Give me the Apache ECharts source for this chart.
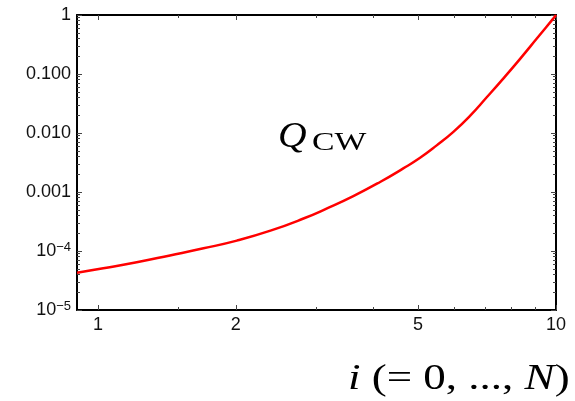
<!DOCTYPE html>
<html>
<head>
<meta charset="utf-8">
<script src="https://cdn.jsdelivr.net/npm/echarts@6/dist/echarts.min.js"></script>
<style>
  html, body { margin: 0; padding: 0; background: #fff; }
  #chart { width: 575px; height: 401px; }
</style>
</head>
<body>
<div id="chart"></div>
<script>
// Q_CW against the index i, both on logarithmic scales
const iValues   = [0.9, 1.027, 1.215, 1.436, 1.70, 2.01, 2.38, 2.81, 3.18, 3.61, 4.13, 4.64, 5.05, 5.49, 5.97, 6.49, 7.06, 7.67, 8.34, 9.08, 9.87, 10];
const qcwValues = [4.29e-5, 5.09e-5, 6.43e-5, 8.41e-5, 1.11e-4, 1.50e-4, 2.21e-4, 3.55e-4, 5.37e-4, 8.51e-4, 1.479e-3, 2.51e-3, 3.80e-3, 6.17e-3, 0.01047, 0.0195, 0.0403, 0.0836, 0.179, 0.399, 0.877, 1.0];

// axis ticks and labels
const xMajorTicks = [1, 2, 5, 10];
const xMinorTicks = [1.5, 3, 4, 6, 7, 8, 9];
const yMajorTicks = [1e-5, 1e-4, 1e-3, 1e-2, 1e-1, 1];
const yTickLabels = ['10{sup|\u22125}', '10{sup|\u22124}', '0.001', '0.010', '0.100', '1'];

// 2..9 within every decade on the y axis
const yMinorTicks = [];
for (let e = -5; e < 0; e++) {
  for (let m = 2; m <= 9; m++) yMinorTicks.push(m * Math.pow(10, e));
}

const chart = echarts.init(document.getElementById('chart'), null, { renderer: 'canvas' });

const gridBox = { left: 77, right: 19, top: 15, bottom: 91 };
const frameLine = { show: true, lineStyle: { color: '#000', width: 2 } };
const tickColor = '#444';
const labelFont = { fontFamily: 'Liberation Sans', fontSize: 18, color: '#111' };

function xAxisDef(grid, position, ticks, len, withLine, withLabels) {
  return {
    gridIndex: grid, type: 'log', logBase: 10, min: 0.9, max: 10, position: position,
    axisLine: withLine ? frameLine : { show: false },
    axisTick: { show: true, inside: true, length: len, customValues: ticks, lineStyle: { color: tickColor, width: 1 } },
    axisLabel: withLabels
      ? Object.assign({ show: true, margin: 6, customValues: xMajorTicks, formatter: v => String(Math.round(v)) }, labelFont)
      : { show: false },
    splitLine: { show: false }, minorTick: { show: false }
  };
}

function yAxisDef(grid, position, ticks, len, withLine, withLabels) {
  return {
    gridIndex: grid, type: 'log', logBase: 10, min: 1e-5, max: 1, position: position,
    axisLine: withLine ? frameLine : { show: false },
    axisTick: { show: true, inside: true, length: len, customValues: ticks, lineStyle: { color: tickColor, width: 1 } },
    axisLabel: withLabels
      ? Object.assign({
          show: true, margin: 6, customValues: yMajorTicks,
          formatter: v => yTickLabels[Math.round(Math.log10(v)) + 5],
          rich: {
            sup: { fontFamily: 'Liberation Sans', fontSize: 13, color: '#111', verticalAlign: 'bottom', padding: [0, 0, 8, 0] }
          }
        }, labelFont)
      : { show: false },
    splitLine: { show: false }, minorTick: { show: false }
  };
}

chart.setOption({
  animation: false,
  backgroundColor: '#fff',
  grid: [Object.assign({}, gridBox), Object.assign({}, gridBox)],
  xAxis: [
    xAxisDef(0, 'bottom', xMajorTicks, 5, true, true),
    xAxisDef(0, 'top', xMajorTicks, 5, true, false),
    xAxisDef(1, 'bottom', xMinorTicks, 3, false, false),
    xAxisDef(1, 'top', xMinorTicks, 3, false, false)
  ],
  yAxis: [
    yAxisDef(0, 'left', yMajorTicks, 5, true, true),
    yAxisDef(0, 'right', yMajorTicks, 5, true, false),
    yAxisDef(1, 'left', yMinorTicks, 3, false, false),
    yAxisDef(1, 'right', yMinorTicks, 3, false, false)
  ],
  series: [{
    type: 'line',
    xAxisIndex: 0, yAxisIndex: 0,
    data: iValues.map((x, k) => [x, qcwValues[k]]),
    smooth: 0.5,
    showSymbol: false,
    clip: true,
    lineStyle: { color: '#ff0000', width: 2.5 }
  }],
  graphic: [
    {
      type: 'text', x: 278, y: 156, scaleX: 1.1,
      style: { text: 'Q', font: 'italic 36px "Liberation Serif"', fill: '#000', textAlign: 'left', textVerticalAlign: 'bottom' }
    },
    {
      type: 'text', x: 312, y: 156, scaleX: 1.35,
      style: { text: 'CW', font: '25px "Liberation Serif"', fill: '#000', textAlign: 'left', textVerticalAlign: 'bottom' }
    },
    {
      type: 'text', x: 348, y: 398, scaleX: 1.25,
      style: {
        text: '{it|i} (= 0, ..., {it|N})',
        textAlign: 'left', textVerticalAlign: 'bottom',
        font: '36px "Liberation Serif"', fill: '#000',
        rich: { it: { fontStyle: 'italic', fontFamily: 'Liberation Serif', fontSize: 36, fill: '#000' } }
      }
    }
  ]
});
</script>
</body>
</html>
